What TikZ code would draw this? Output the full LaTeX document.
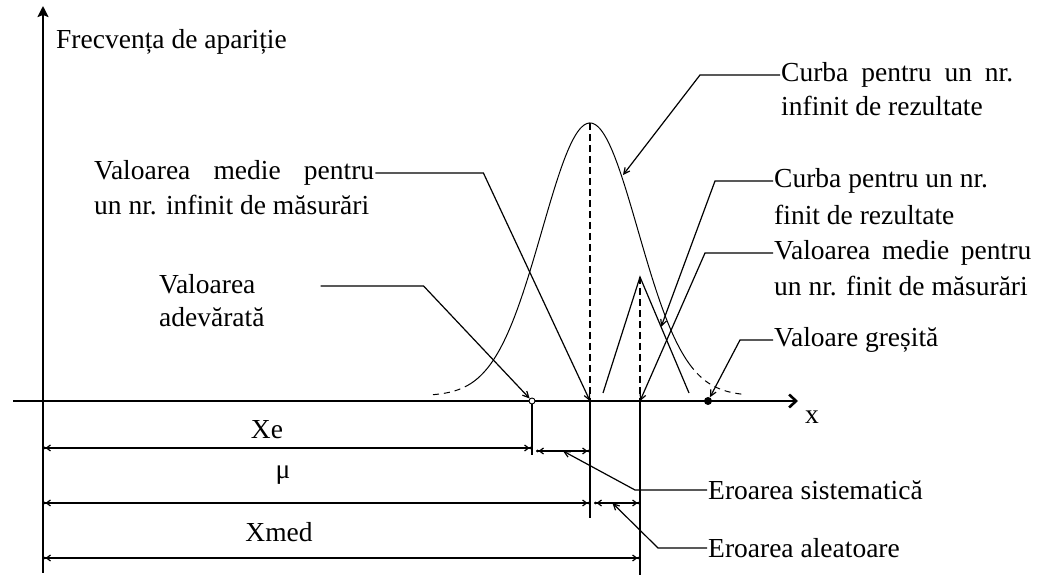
\documentclass[tikz,border=0pt]{standalone}
\usepackage{fontspec}
\setmainfont{Liberation Serif}
\usetikzlibrary{arrows.meta}
\usetikzlibrary{positioning}
\usetikzlibrary{calc}

\begin{document}
\begin{tikzpicture}[x=10pt, y=10pt, >={Straight Barb[length=6pt,width=6pt]},
txt/.style={inner sep=1pt, font=\fontsize{27.5}{32}\selectfont},
axis/.style={line width=2.6pt},
leader/.style={->, line width=1.2pt},
dimline/.style={line width=1.2pt, {Circle[length=2.5pt] Straight Barb[length=4pt,width=6pt]}-{Straight Barb[length=4pt,width=6pt] Circle[length=2.5pt]}},
guide/.style={line width=1.2pt, dash pattern=on 7pt off 4pt},
curve/.style={line width=1pt},
tail/.style={curve, dash pattern=on 6pt off 5pt},
truedot/.style={circle, draw, fill=white, inner sep=0pt, minimum size=6pt, line width=0.9pt},
wrongdot/.style={circle, fill=black, inner sep=0pt, minimum size=8pt}]

\useasboundingbox (0,0) rectangle (104.9,57.8);

%%%%%% SETTINGS %%%%%%%%%%

\pgfmathsetmacro{\mux}{59}
\pgfmathsetmacro{\sig}{4.8}
\pgfmathsetmacro{\base}{18.2}
\pgfmathsetmacro{\hgt}{27.3}

%%%%%% AXES %%%%%%%%%%

\draw[axis, -{Stealth[length=11pt,width=11pt,inset=2pt]}] (4.3,0.5) -- (4.3,57.2);
\draw[axis, -{Straight Barb[length=7pt,width=13pt]}] (1.3,17.7) -- (79.8,17.7);
\node[txt] (xlab) at (81.2,16.1) {x};
\node[txt, anchor=west] (ylab) at (5.5,53.6) {Frecvența de apariție};

\coordinate (O) at (4.3,17.7);
\coordinate (mu) at (\mux,17.7);
\coordinate (xmed) at (64,17.7);
\coordinate (peak) at (\mux,45.5);

%%%%%% CURVES %%%%%%%%%%

\draw[curve] plot[domain=47:69, samples=80, smooth] (\x,{\base+\hgt*exp(-(\x-\mux)*(\x-\mux)/(2*\sig*\sig))});
\draw[tail] plot[domain=43.3:47, samples=15, smooth] (\x,{\base+\hgt*exp(-(\x-\mux)*(\x-\mux)/(2*\sig*\sig))});
\draw[tail] plot[domain=69:74.3, samples=15, smooth] (\x,{\base+\hgt*exp(-(\x-\mux)*(\x-\mux)/(2*\sig*\sig))});

\coordinate (tl) at (60.3,18.5);
\coordinate (tp) at (64,30.1);
\coordinate (tr) at (68.9,18.5);
\draw[line width=1.2pt] (tl) -- (tp) -- (tr);

\draw[guide] (peak) -- (mu);
\draw[guide] (tp) -- (xmed);

\node[truedot] (xe) at (53.2,17.7) {};
\node[wrongdot] (wrong) at (70.8,17.7) {};

%%%%%% DIMENSIONS %%%%%%%%%%

\draw[line width=1.2pt] (xe.south) -- (53.2,12.3);
\draw[line width=1.2pt] (mu) -- (\mux,6.0);
\draw[line width=1.2pt] (xmed) -- (64,0.3);

\coordinate (sysa) at (53.6,12.7);
\coordinate (sysb) at (\mux,12.7);
\coordinate (randa) at (59.4,7.5);
\coordinate (randb) at (64,7.5);

\draw[dimline] (O |- 0,13) -- (xe |- 0,13);
\draw[dimline] (sysa) -- (sysb);
\draw[dimline] (O |- 0,7.5) -- (mu |- 0,7.5);
\draw[dimline] (randa) -- (randb);
\draw[dimline] (O |- 0,2) -- (xmed |- 0,2);

\node[txt] (xelab) at (26.7,14.8) {Xe};
\node[txt] (mulab) at (28.3,10.3) {μ};
\node[txt] (xmedlab) at (27.9,4.6) {Xmed};

%%%%%% LABELS %%%%%%%%%%

\node[txt, anchor=west] (infmean) at (9.3,40.5) {\makebox[280pt][s]{Valoarea medie pentru}};
\node[txt, below=32pt of infmean.west, anchor=west] (infmean2) {un nr. infinit de măsurări};
\draw[leader] (infmean.east) -- ++(10.8,0) -- (mu);

\node[txt, anchor=west] (truev) at (15.8,29.4) {Valoarea};
\node[txt, below=33pt of truev.west, anchor=west] (truev2) {adevărată};
\draw[leader] (truev.east) ++(6.4,-0.2) -- ++(10.3,0) -- (xe);

\coordinate (gausspt) at (62.3,40.3);
\node[txt, anchor=west] (infcurve) at (78.0,50.3) {\makebox[232pt][s]{Curba pentru un nr.}};
\node[txt, below=31pt of infcurve.west, anchor=west] (infcurve2) {infinit de rezultate};
\draw[leader] (infcurve.west) -- ++(-8,0) -- (gausspt);

\node[txt, anchor=west] (fincurve) at (77.3,39.7) {Curba pentru un nr.};
\node[txt, below=34pt of fincurve.west, anchor=west] (fincurve2) {finit de rezultate};
\draw[leader] (fincurve.west) -- ++(-5.8,0) -- ($(tp)!0.43!(tr)$);

\node[txt, anchor=west] (finmean) at (77.3,32.5) {\makebox[257pt][s]{Valoarea medie pentru}};
\node[txt, below=33pt of finmean.west, anchor=west] (finmean2) {un nr. finit de măsurări};
\draw[leader] (finmean.west) -- ++(-6.8,0) -- (xmed);

\node[txt, anchor=west] (wronglab) at (77.3,23.8) {Valoare greșită};
\draw[leader] (wronglab.west) -- ++(-3.3,0) -- (wrong);

\node[txt, anchor=west] (syserr) at (70.7,8.8) {Eroarea sistematică};
\draw[leader] (syserr.west) -- ++(-7.2,0) -- ($(sysa)!0.5!(sysb)$);

\node[txt, anchor=west] (randerr) at (70.7,3.0) {Eroarea aleatoare};
\draw[leader] (randerr.west) -- ++(-4.9,0) -- ($(randa)!0.4!(randb)$);

\end{tikzpicture}
\end{document}
